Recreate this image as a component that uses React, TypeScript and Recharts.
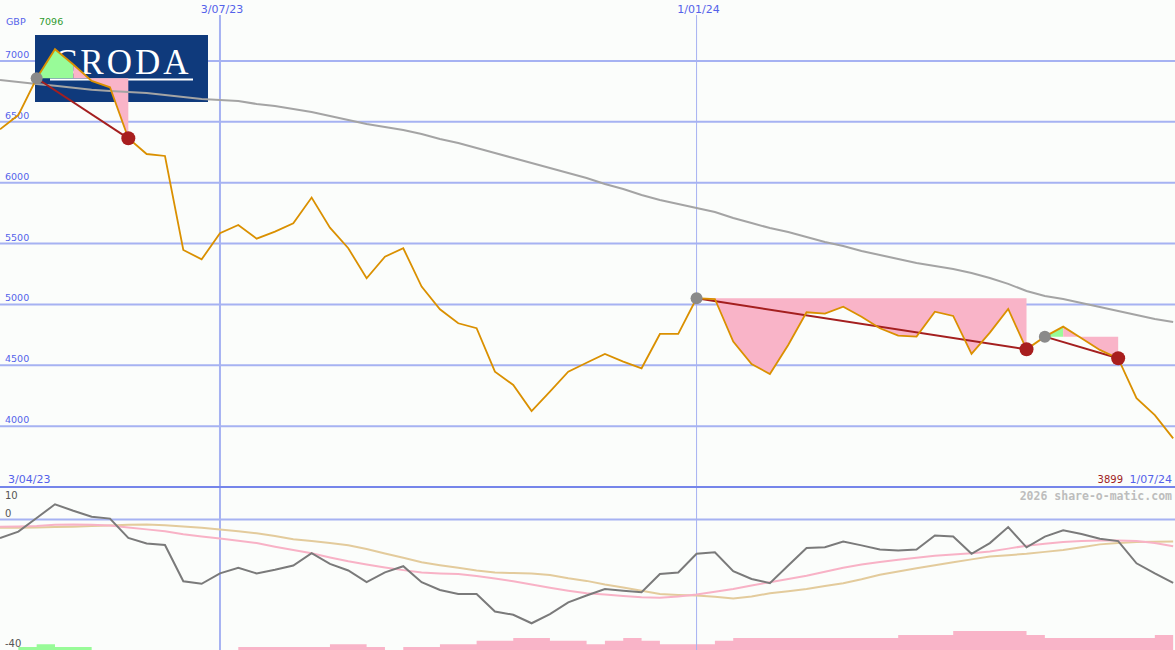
import React from 'react';
import { ComposedChart, Line, Area, XAxis, YAxis, ReferenceLine } from 'recharts';

// ---------- data (weekly closes, GBp) ----------
const prices = [
  6438, 6555, 6857, 7096, 6970, 6835, 6783, 6364, 6235, 6219,
  5447, 5370, 5584, 5652, 5540, 5597, 5666, 5877, 5630, 5461,
  5214, 5392, 5461, 5146, 4960, 4845, 4804, 4447, 4338, 4124,
  4283, 4447, 4521, 4593, 4530, 4475, 4757, 4757, 5050, 5044,
  4694, 4510, 4428, 4666, 4935, 4924, 4981, 4899, 4804, 4743,
  4735, 4940, 4905, 4593, 4768, 4962, 4631, 4735, 4817, 4721,
  4626, 4557, 4229, 4090, 3899,
];

const longMA = [
  6843, 6827, 6810, 6795, 6780, 6762, 6752, 6745, 6736, 6720,
  6703, 6687, 6679, 6670, 6646, 6630, 6605, 6580, 6547, 6514,
  6482, 6457, 6432, 6400, 6358, 6326, 6285, 6243, 6202, 6161,
  6120, 6079, 6038, 5989, 5948, 5899, 5857, 5825, 5792, 5759,
  5710, 5668, 5627, 5595, 5554, 5512, 5480, 5439, 5406, 5373,
  5340, 5315, 5290, 5258, 5217, 5168, 5110, 5069, 5044, 5012,
  4979, 4946, 4913, 4880, 4855,
];

const momentum = [
  -5.7, -3.7, 0.5, 4.7, 2.7, 0.9, 0.3, -5.6, -7.3, -7.8,
  -18.9, -19.7, -16.5, -14.8, -16.5, -15.4, -14.1, -10.3, -13.6, -15.6,
  -19.2, -16.2, -14.3, -19.2, -21.6, -22.8, -22.8, -28.2, -29.2, -31.8,
  -29, -25.4, -23.3, -21.3, -21.8, -22.3, -16.7, -16.2, -10.5, -10,
  -15.8, -18.2, -19.5, -14.1, -8.7, -8.5, -6.7, -7.9, -9.2, -9.5,
  -9.2, -4.9, -5.2, -10.5, -7.2, -2.3, -8.5, -5.2, -3.3, -4.4,
  -5.9, -6.6, -13.4, -16.5, -19.4,
];

const signalPink = [
  -2.2, -2.1, -2.0, -1.6, -1.5, -1.6, -1.8, -2.4, -3.0, -3.6,
  -4.5, -5.2, -5.8, -6.5, -7.2, -8.3, -9.3, -10.3, -11.6, -12.8,
  -13.8, -14.7, -15.5, -16.2, -16.5, -16.7, -17.3, -18.1, -18.9, -19.9,
  -20.9, -21.8, -22.6, -23.0, -23.4, -23.8, -24.0, -23.6, -23.0, -22.1,
  -21.3, -20.2, -19.2, -18.2, -17.2, -16.0, -14.8, -13.8, -13.0, -12.3,
  -11.7, -11.1, -10.7, -10.3, -9.8, -8.9, -8.0, -7.4, -6.9, -6.6,
  -6.4, -6.4, -6.6, -7.2, -8.2,
];

const signalTan = [
  -2.5, -2.5, -2.4, -2.3, -2.2, -2.0, -1.8, -1.6, -1.5, -1.7,
  -2.1, -2.5, -3.0, -3.6, -4.2, -5.0, -6.0, -6.6, -7.2, -7.9,
  -9.0, -10.4, -11.7, -13.1, -14.0, -14.8, -15.6, -16.2, -16.4, -16.5,
  -17.0, -18.0, -18.8, -19.9, -20.8, -21.8, -22.8, -23.1, -23.3, -23.7,
  -24.2, -23.6, -22.6, -22.0, -21.3, -20.4, -19.5, -18.3, -16.9, -15.9,
  -14.9, -14.0, -13.1, -12.2, -11.3, -10.9, -10.5, -9.9, -9.3, -8.5,
  -7.6, -7.2, -6.9, -6.8, -6.7,
];

// signed histogram: positive = green, negative = pink
const histogram = [
  0, 0.9, 1.8, 0.9, 0.9, 0, 0, 0, 0, 0,
  0, 0, 0, -0.9, -0.9, -0.9, -0.9, -0.9, -1.8, -1.8,
  -0.9, 0, -0.9, -0.9, -1.8, -1.8, -2.8, -2.8, -3.7, -3.7,
  -2.8, -2.8, -1.8, -2.8, -3.7, -2.8, -1.8, -1.8, -1.8, -2.8,
  -3.7, -3.7, -3.7, -3.7, -3.7, -3.7, -3.7, -3.7, -3.7, -4.6,
  -4.6, -4.6, -5.8, -5.8, -5.8, -5.8, -4.6, -3.7, -3.7, -3.7,
  -3.7, -3.7, -3.7, -4.6, -4.6,
];

// trend patterns (indices into the weekly series)
const patternStart = [2, 38, 57];
const patternGreenEnd = [4, 38, 58];
const patternEnd = [7, 56, 61];

// labels
const currency = 'GBP';
const startLabel = '3/04/23';
const endLabel = '1/07/24';
const markerIdx = [12, 38];
const markerLabels = ['3/07/23', '1/01/24'];
const priceTicks = [4000, 4500, 5000, 5500, 6000, 6500, 7000];
const lowerTicks = [-40, 0, 10];
const watermark = '2026 share-o-matic.com';
const logoText = 'CRODA';

// ---------- styles ----------
const W = 1175;
const H = 650;
const TOP_H = 487;
const X_DOMAIN: [number, number] = [0, 64.1];
const PRICE_DOMAIN: [number, number] = [3500, 7500];
const LOWER_DOMAIN: [number, number] = [-40, 10];
const BG = '#fbfdfb';
const GRID = '#a6b2f2';
const GRID_DARK = '#7585ea';
const BLUE = '#5462ea';
const FONT = 'DejaVu Sans';
const GREEN_FILL = '#98fb98';
const PINK_FILL = '#f9b4c8';

// ---------- table ----------
const table = prices.map((p, i) => {
  const row: any = {
    i,
    price: p,
    ma: longMA[i],
    mom: momentum[i],
    sigA: signalPink[i],
    sigB: signalTan[i],
    hg: LOWER_DOMAIN[0] + Math.max(histogram[i], 0),
    hp: LOWER_DOMAIN[0] + Math.max(-histogram[i], 0),
    green: null,
    pink: null,
  };
  patternStart.forEach((s, k) => {
    const g = patternGreenEnd[k];
    const e = patternEnd[k];
    const lvl = prices[s];
    if (g > s && i >= s && i <= g) row.green = [lvl, p];
    if (i >= g && i <= e) row.pink = [lvl, p];
    row['trend' + k] = i === s || i === e ? p : null;
  });
  return row;
});

const maxPrice = Math.max(...prices);
const lastPrice = prices[prices.length - 1];

// label drawn at the left, just above (or below) a horizontal level line
function LevelLabel(props: any) {
  const { viewBox, text, dy, fill, size } = props;
  const y = viewBox ? viewBox.y : 0;
  return (
    <text x={5} y={y + dy} fill={fill} fontSize={size} fontFamily={FONT}>
      {text}
    </text>
  );
}

// date label sitting at the top of a vertical marker, masking the line behind it
function MarkerLabel(props: any) {
  const { viewBox, text } = props;
  const x = viewBox ? viewBox.x : 0;
  return (
    <g>
      <rect x={x - 23} y={0} width={46} height={15} fill={BG} />
      <text x={x + 2} y={13} fill={BLUE} fontSize={11} fontFamily={FONT} textAnchor="middle">
        {text}
      </text>
    </g>
  );
}

const makeDot = (k: number) => (props: any) => {
  const { cx, cy, index } = props;
  const key = `td${k}-${index}`;
  if (cx == null || cy == null || isNaN(cy) || (index !== patternStart[k] && index !== patternEnd[k])) {
    return <g key={key} />;
  }
  const isStart = index === patternStart[k];
  return <circle key={key} cx={cx} cy={cy} r={isStart ? 6 : 7} fill={isStart ? '#8a8a8a' : '#a81e1e'} />;
};

const margin0 = { top: 0, right: 0, bottom: 0, left: 0 };

export default function App() {
  return (
    <div style={{ position: 'absolute', left: 0, top: 0, width: W, height: H, background: BG, overflow: 'hidden' }}>
      {/* background: grid, level labels, date markers */}
      <div style={{ position: 'absolute', left: 0, top: 0 }}>
        <ComposedChart width={W} height={TOP_H} data={table} margin={margin0}>
          <XAxis dataKey="i" type="number" domain={X_DOMAIN} hide allowDataOverflow />
          <YAxis domain={PRICE_DOMAIN} hide allowDataOverflow />
          {priceTicks.map((v) => (
            <ReferenceLine
              key={'g' + v}
              y={v}
              stroke={GRID}
              strokeWidth={2}
              label={<LevelLabel text={v} dy={-3} fill={BLUE} size={9.5} />}
            />
          ))}
          {markerIdx.map((m, k) => (
            <ReferenceLine
              key={'m' + k}
              x={m}
              stroke={GRID}
              strokeWidth={k === 0 ? 2 : 1}
              label={<MarkerLabel text={markerLabels[k]} />}
            />
          ))}
          <Line dataKey="price" stroke="none" dot={false} activeDot={false} isAnimationActive={false} />
        </ComposedChart>
      </div>

      {/* logo */}
      <div style={{ position: 'absolute', left: 35, top: 35, width: 173, height: 67 }}>
        <svg width={173} height={67}>
          <rect x={0} y={0} width={173} height={67} fill="#0f3a7c" />
          <text x={19} y={39} fill="#ffffff" fontSize={35} fontFamily="Liberation Serif" letterSpacing={3}>
            {logoText}
          </text>
          <rect x={15} y={43.5} width={143} height={2} fill="#ffffff" />
        </svg>
      </div>

      {/* foreground price series */}
      <div style={{ position: 'absolute', left: 0, top: 0 }}>
        <ComposedChart width={W} height={TOP_H} data={table} margin={margin0}>
          <XAxis dataKey="i" type="number" domain={X_DOMAIN} hide allowDataOverflow />
          <YAxis domain={PRICE_DOMAIN} hide allowDataOverflow />
          <Area dataKey="green" type="linear" fill={GREEN_FILL} fillOpacity={1} stroke="none" activeDot={false} isAnimationActive={false} />
          <Area dataKey="pink" type="linear" fill={PINK_FILL} fillOpacity={1} stroke="none" activeDot={false} isAnimationActive={false} />
          <Line dataKey="ma" type="linear" stroke="#a4a4a4" strokeWidth={2} dot={false} activeDot={false} isAnimationActive={false} />
          {patternStart.map((s, k) => (
            <Line
              key={'trend' + k}
              dataKey={'trend' + k}
              type="linear"
              stroke="#a41f1f"
              strokeWidth={2}
              connectNulls
              dot={makeDot(k)}
              activeDot={false}
              isAnimationActive={false}
            />
          ))}
          <Line dataKey="price" type="linear" stroke="#da9000" strokeWidth={1.8} dot={false} activeDot={false} isAnimationActive={false} />
        </ComposedChart>
      </div>

      {/* lower indicator panel */}
      <div style={{ position: 'absolute', left: 0, top: TOP_H - 2 }}>
        <ComposedChart width={W} height={H - TOP_H + 2} data={table} margin={{ top: 2, right: 0, bottom: 0, left: 0 }}>
          <XAxis dataKey="i" type="number" domain={X_DOMAIN} hide allowDataOverflow />
          <YAxis domain={LOWER_DOMAIN} hide allowDataOverflow />
          <ReferenceLine
            y={lowerTicks[1]}
            stroke={GRID}
            strokeWidth={2}
            label={<LevelLabel text={lowerTicks[1]} dy={-3} fill="#555" size={10} />}
          />
          <ReferenceLine
            y={lowerTicks[0]}
            stroke="none"
            label={<LevelLabel text={lowerTicks[0]} dy={-3} fill="#555" size={10} />}
          />
          {markerIdx.map((m, k) => (
            <ReferenceLine key={'lm' + k} x={m} stroke={GRID} strokeWidth={k === 0 ? 2 : 1} />
          ))}
          <Area dataKey="hg" type="stepAfter" baseValue={LOWER_DOMAIN[0]} fill={GREEN_FILL} fillOpacity={1} stroke="none" activeDot={false} isAnimationActive={false} />
          <Area dataKey="hp" type="stepAfter" baseValue={LOWER_DOMAIN[0]} fill={PINK_FILL} fillOpacity={1} stroke="none" activeDot={false} isAnimationActive={false} />
          <Line dataKey="sigB" type="linear" stroke="#e3cb9c" strokeWidth={2} dot={false} activeDot={false} isAnimationActive={false} />
          <Line dataKey="sigA" type="linear" stroke="#f8b2c6" strokeWidth={2} dot={false} activeDot={false} isAnimationActive={false} />
          <Line dataKey="mom" type="linear" stroke="#7a7a7a" strokeWidth={2} dot={false} activeDot={false} isAnimationActive={false} />
          <ReferenceLine
            y={lowerTicks[2]}
            stroke={GRID_DARK}
            strokeWidth={2}
            label={<LevelLabel text={lowerTicks[2]} dy={12} fill="#555" size={10} />}
          />
        </ComposedChart>
      </div>

      {/* text overlay */}
      <svg width={W} height={H} style={{ position: 'absolute', left: 0, top: 0, pointerEvents: 'none' }}>
        <text x={6} y={25} fill={BLUE} fontSize={9.5} fontFamily={FONT}>{currency}</text>
        <text x={39} y={25} fill="#2f9a2f" fontSize={9.5} fontFamily={FONT}>{maxPrice}</text>
        <text x={8} y={483} fill={BLUE} fontSize={11} fontFamily={FONT}>{startLabel}</text>
        <text x={1123} y={483} fill="#a01e1e" fontSize={10} fontFamily={FONT} textAnchor="end">{lastPrice}</text>
        <text x={1172} y={483} fill={BLUE} fontSize={11} fontFamily={FONT} textAnchor="end">{endLabel}</text>
        <text x={1172} y={500} fill="#bdbdbd" fontSize={11.5} fontWeight="bold" fontFamily="DejaVu Sans Mono" textAnchor="end">{watermark}</text>
      </svg>
    </div>
  );
}
